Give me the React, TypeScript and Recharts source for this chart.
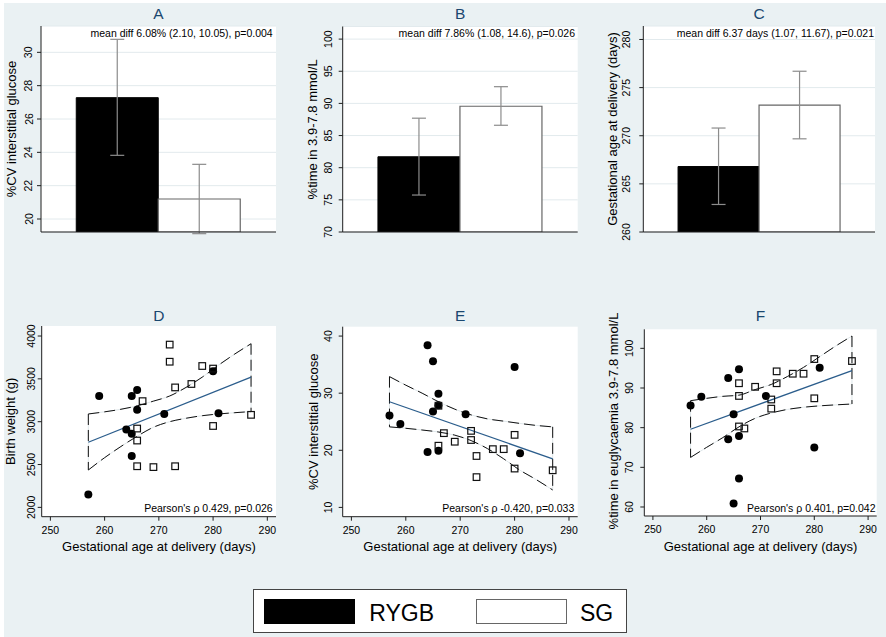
import React from 'react'
import {
  BarChart, Bar, ErrorBar, ComposedChart, Line, Scatter,
  XAxis, YAxis, CartesianGrid, Legend,
} from 'recharts'

const W = 886
const H = 637
const FONT = '"Liberation Sans", Arial, Helvetica, sans-serif'
const AX = '#1e1e1e'
const BG = '#eaf1f3'

// group means with 95% CI: [RYGB, SG]
const cvMean = [27.28, 21.2]
const cvLo = [23.82, 19.12]
const cvHi = [30.78, 23.28]

const tirMean = [81.7, 89.56]
const tirLo = [75.75, 86.6]
const tirHi = [87.7, 92.6]

const gaMean = [266.8, 273.17]
const gaLo = [262.86, 269.68]
const gaHi = [270.8, 276.7]

// [gestational age (days), outcome]
const bwRygb = [[257, 2150], [259, 3300], [265, 3300], [266, 3370], [266, 3140], [264, 2910], [265, 2860], [265, 2600], [271, 3090], [280, 3590], [281, 3100]]
const bwSg = [[272, 3900], [272, 3700], [278, 3650], [280, 3620], [276, 3440], [273, 3400], [267, 3240], [266, 2920], [266, 2780], [266, 2480], [269, 2470], [273, 2480], [280, 2950], [287, 3080]]

const cvRygb = [[257, 26.1], [259, 24.6], [264, 38.4], [265, 35.6], [266, 29.9], [266, 27.9], [265, 26.8], [271, 26.3], [264, 19.7], [266, 19.9], [280, 34.6], [281, 19.5]]
const cvSg = [[266, 27.8], [267, 23.0], [266, 20.8], [269, 21.5], [272, 23.4], [272, 21.8], [273, 19.0], [273, 15.3], [276, 20.2], [278, 20.2], [280, 22.7], [280, 16.8], [287, 16.5]]

const euRygb = [[257, 85.6], [259, 87.8], [264, 92.5], [266, 94.7], [265, 83.4], [264, 77.1], [266, 77.9], [266, 67.2], [265, 60.9], [271, 88.0], [280, 75.0], [281, 95.1]]
const euSg = [[266, 91.2], [266, 88.0], [266, 80.3], [267, 79.8], [269, 90.3], [272, 87.1], [272, 84.8], [273, 94.2], [273, 91.2], [276, 93.6], [278, 93.6], [280, 97.3], [280, 87.4], [287, 96.8]]

// linear fit (end points) and 95% CI bounds, read at ciDays
const ciDays = [257, 260, 263, 266, 269, 272, 275, 278, 281, 284, 287]

const bwFit = [2760, 3520]
const bwUpper = [3090, 3115, 3145, 3185, 3240, 3300, 3400, 3520, 3660, 3790, 3910]
const bwLower = [2436, 2580, 2710, 2830, 2935, 3000, 3040, 3070, 3090, 3105, 3118]

const cvFit = [28.5, 18.5]
const cvUpper = [32.9, 31.4, 30.0, 28.5, 27.2, 26.2, 25.5, 25.1, 24.7, 24.35, 24.1]
const cvLower = [24.1, 23.85, 23.55, 23.2, 22.65, 21.7, 20.3, 18.5, 16.5, 14.85, 13.05]

const euFit = [79.6, 94.4]
const euUpper = [86.8, 87.4, 87.9, 88.2, 89.6, 90.9, 92.9, 95.2, 97.9, 100.6, 103.1]
const euLower = [72.5, 75.05, 77.5, 80.2, 82.35, 83.7, 84.6, 85.15, 85.5, 85.75, 85.96]

const gaTicks = [250, 260, 270, 280, 290]

type Frame = { l: number; t: number; r: number; b: number }
const AXIS_W = 30
const AXIS_H = 20
const marginOf = (f: Frame) => ({ left: f.l - AXIS_W, top: f.t, right: W - f.r, bottom: H - f.b - AXIS_H })

const frames: Record<string, Frame> = {
  A: { l: 41, t: 26, r: 276, b: 232 },
  B: { l: 342.7, t: 26.5, r: 577.7, b: 232 },
  C: { l: 643.3, t: 26, r: 875, b: 232 },
  D: { l: 41.7, t: 326, r: 276, b: 516.7 },
  E: { l: 342.7, t: 326.7, r: 577.7, b: 516.7 },
  F: { l: 644.3, t: 329.3, r: 876.7, b: 516 },
}

function VTick(props: any) {
  const { x, y, payload, off } = props
  const cx = x - off
  return (
    <text x={cx} y={y} transform={`rotate(-90 ${cx} ${y})`} textAnchor="middle"
      dominantBaseline="central" fontSize={10.5} fontFamily={FONT} fill="#000">
      {payload.value}
    </text>
  )
}

const LEG_X = [11, 223]
const LEG_TX = [116.3, 327]
const LEG_FILL = ['#000', '#fff']
const LEG_EDGE = ['#000', '#666']

function LegendBox(props: any) {
  const items = props.payload ?? []
  return (
    <svg width={374} height={44} style={{ display: 'block' }}>
      <rect x={0.5} y={0.5} width={373} height={43} fill="#fff" stroke="#444" />
      {items.map((e: any, i: number) => (
        <g key={e.value}>
          <rect x={LEG_X[i] + 0.5} y={10.5} width={90} height={24} fill={LEG_FILL[i]} stroke={LEG_EDGE[i]} />
          <text x={LEG_TX[i]} y={31.7} fontSize={23} fontFamily={FONT} fill="#000">{e.value}</text>
        </g>
      ))}
    </svg>
  )
}

function BarPanel({ frame, mean, lo, hi, domain, ticks, gap, legend }: any) {
  const data = [{
    g: '',
    rygb: mean[0],
    sg: mean[1],
    rygbErr: [mean[0] - lo[0], hi[0] - mean[0]],
    sgErr: [mean[1] - lo[1], hi[1] - mean[1]],
  }]
  return (
    <BarChart width={W} height={H} data={data} margin={marginOf(frame)} barCategoryGap="15%" barGap={0}>
      <CartesianGrid vertical={false} stroke="#e2eaed" fill="#fff" />
      <XAxis dataKey="g" tick={false} tickLine={false} axisLine={{ stroke: AX }} height={AXIS_H} />
      <YAxis type="number" domain={domain} ticks={ticks} allowDataOverflow width={AXIS_W}
        tickSize={4} tickMargin={0} axisLine={{ stroke: AX }} tickLine={{ stroke: AX }}
        tick={(p: any) => <VTick {...p} off={gap - 4} />} />
      <Bar dataKey="rygb" name="RYGB" fill="#000" stroke="#000" isAnimationActive={false}>
        <ErrorBar dataKey="rygbErr" width={7} stroke="#8c8c8c" strokeWidth={1.2} direction="y" />
      </Bar>
      <Bar dataKey="sg" name="SG" fill="#fff" stroke="#666" strokeWidth={1.2} isAnimationActive={false}>
        <ErrorBar dataKey="sgErr" width={7} stroke="#8c8c8c" strokeWidth={1.2} direction="y" />
      </Bar>
      {legend && (
        <Legend content={<LegendBox />} layout="horizontal" verticalAlign="middle" align="center"
          wrapperStyle={{ left: 253, top: 589, width: 374, height: 44 }} />
      )}
    </BarChart>
  )
}

const Dot = (p: any) => <circle cx={p.cx} cy={p.cy} r={4} fill="#000" />
const Square = (p: any) => (
  <rect x={p.cx - 3.3} y={p.cy - 3.3} width={6.6} height={6.6} fill="none" stroke="#111" strokeWidth={1.2} />
)

function ScatterPanel({ frame, rygb, sg, fit, upper, lower, domain, ticks, gap }: any) {
  const pts = (a: number[][]) => a.map(([x, y]) => ({ x, y }))
  const last = ciDays.length - 1
  const up = ciDays.map((x, i) => ({ x, y: upper[i] }))
  const low = ciDays.map((x, i) => ({ x, y: lower[i] }))
  const band = [
    { d: up, curve: 'monotone' },
    { d: low, curve: 'monotone' },
    { d: [up[0], low[0]], curve: 'linear' },
    { d: [up[last], low[last]], curve: 'linear' },
  ]
  const fitLine = [{ x: ciDays[0], y: fit[0] }, { x: ciDays[last], y: fit[1] }]
  return (
    <ComposedChart width={W} height={H} margin={marginOf(frame)}>
      <CartesianGrid horizontal={false} vertical={false} stroke="none" fill="#fff" />
      <XAxis type="number" dataKey="x" domain={[248.4, 291.6]} ticks={gaTicks} allowDataOverflow
        height={AXIS_H} tickSize={4} tickMargin={5.5} axisLine={{ stroke: AX }} tickLine={{ stroke: AX }}
        tick={{ fontSize: 10.5, fill: '#000', fontFamily: FONT }} />
      <YAxis type="number" dataKey="y" domain={domain} ticks={ticks} allowDataOverflow width={AXIS_W}
        tickSize={4} tickMargin={0} axisLine={{ stroke: AX }} tickLine={{ stroke: AX }}
        tick={(p: any) => <VTick {...p} off={gap - 4} />} />
      {band.map((b, i) => (
        <Line key={'s' + i} data={b.d} dataKey="y" type={b.curve as any} stroke="#dfe7ea" strokeWidth={1}
          dot={false} activeDot={false} isAnimationActive={false} />
      ))}
      {band.map((b, i) => (
        <Line key={'d' + i} data={b.d} dataKey="y" type={b.curve as any} stroke="#111" strokeWidth={1}
          strokeDasharray="11 5" dot={false} activeDot={false} isAnimationActive={false} />
      ))}
      <Line data={fitLine} dataKey="y" type="linear" stroke="#2b5d8c" strokeWidth={1.3}
        dot={false} activeDot={false} isAnimationActive={false} />
      <Scatter data={pts(rygb)} shape={Dot} isAnimationActive={false} />
      <Scatter data={pts(sg)} shape={Square} isAnimationActive={false} />
    </ComposedChart>
  )
}

const panelTitles: [string, number, number][] = [
  ['A', 158.5, 19.3], ['B', 460.2, 19.3], ['C', 759.2, 19.3],
  ['D', 158.9, 320.7], ['E', 460.2, 320.7], ['F', 760.5, 320.7],
]

const notes: [string, number, number][] = [
  ['mean diff 6.08% (2.10, 10.05), p=0.004', 272.7, 36.7],
  ['mean diff 7.86% (1.08, 14.6), p=0.026', 575, 36.7],
  ['mean diff 6.37 days (1.07, 11.67), p=0.021', 874, 36.7],
  ["Pearson's \u03c1 0.429, p=0.026", 272.7, 511.7],
  ["Pearson's \u03c1 -0.420, p=0.033", 574.3, 511.7],
  ["Pearson's \u03c1 0.401, p=0.042", 875.5, 512.3],
]

const yTitles: [string, number, number][] = [
  ['%CV interstitial glucose', 16, 129],
  ['%time in 3.9-7.8 mmol/L', 317.5, 129.3],
  ['Gestational age at delivery (days)', 616.5, 129],
  ['Birth weight (g)', 15.5, 421.3],
  ['%CV interstitial glucose', 317.8, 421.7],
  ['%time in euglycaemia 3.9-7.8 mmol/L', 618, 421],
]

const xTitle = 'Gestational age at delivery (days)'
const xTitlePos = [158.9, 460.2, 760.5]

const layer: React.CSSProperties = { position: 'absolute', left: 0, top: 0 }

export default function App() {
  return (
    <div style={{ position: 'relative', width: W, height: H, background: '#fff', fontFamily: FONT }}>
      <style>{'body{margin:0}'}</style>
      <div style={{ position: 'absolute', left: 4, top: 3, right: 0, bottom: 0, background: BG }} />

      <div style={layer}>
        <BarPanel frame={frames.A} mean={cvMean} lo={cvLo} hi={cvHi}
          domain={[19.22, 31.58]} ticks={[20, 22, 24, 26, 28, 30]} gap={12.5} legend />
      </div>
      <div style={layer}>
        <BarPanel frame={frames.B} mean={tirMean} lo={tirLo} hi={tirHi}
          domain={[70, 101.96]} ticks={[70, 75, 80, 85, 90, 95, 100]} gap={14.3} />
      </div>
      <div style={layer}>
        <BarPanel frame={frames.C} mean={gaMean} lo={gaLo} hi={gaHi}
          domain={[260, 281.4]} ticks={[260, 265, 270, 275, 280]} gap={17} />
      </div>
      <div style={layer}>
        <ScatterPanel frame={frames.D} rygb={bwRygb} sg={bwSg} fit={bwFit} upper={bwUpper} lower={bwLower}
          domain={[1891, 4117]} ticks={[2000, 2500, 3000, 3500, 4000]} gap={11} />
      </div>
      <div style={layer}>
        <ScatterPanel frame={frames.E} rygb={cvRygb} sg={cvSg} fit={cvFit} upper={cvUpper} lower={cvLower}
          domain={[8.37, 41.64]} ticks={[10, 20, 30, 40]} gap={15} />
      </div>
      <div style={layer}>
        <ScatterPanel frame={frames.F} rygb={euRygb} sg={euSg} fit={euFit} upper={euUpper} lower={euLower}
          domain={[57.73, 104.8]} ticks={[60, 70, 80, 90, 100]} gap={15.5} />
      </div>

      <svg width={W} height={H} style={{ ...layer, pointerEvents: 'none' }} fontFamily={FONT}>
        {panelTitles.map(([t, x, y]) => (
          <text key={t} x={x} y={y} textAnchor="middle" fontSize={15.5} fill="#1a476f">{t}</text>
        ))}
        {notes.map(([t, x, y]) => (
          <text key={t + x} x={x} y={y} textAnchor="end" fontSize={10.5} fill="#000">{t}</text>
        ))}
        {yTitles.map(([t, x, y]) => (
          <text key={t + x} x={x} y={y} transform={`rotate(-90 ${x} ${y})`} textAnchor="middle"
            fontSize={13} fill="#000">{t}</text>
        ))}
        {xTitlePos.map((x) => (
          <text key={x} x={x} y={550.5} textAnchor="middle" fontSize={13} fill="#000">{xTitle}</text>
        ))}
      </svg>
    </div>
  )
}
